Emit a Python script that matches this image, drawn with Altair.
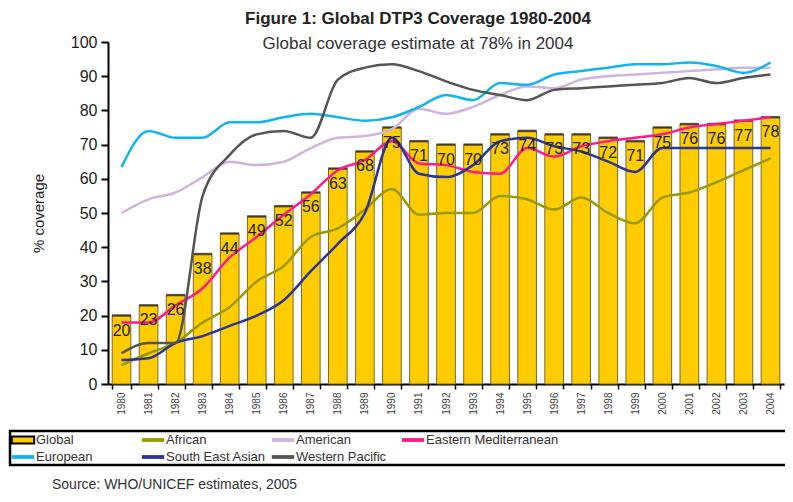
import altair as alt
import pandas as pd

years = ["1980", "1981", "1982", "1983", "1984", "1985", "1986", "1987", "1988",
         "1989", "1990", "1991", "1992", "1993", "1994", "1995", "1996", "1997",
         "1998", "1999", "2000", "2001", "2002", "2003", "2004"]

global_cov = [20, 23, 26, 38, 44, 49, 52, 56, 63, 68, 75, 71, 70, 70, 73, 74, 73, 73,
              72, 71, 75, 76, 76, 77, 78]
african = [5.5, 9, 12, 18, 22.5, 30, 34.5, 43, 45.5, 51, 57, 49.5, 50, 50, 55, 54, 51,
           54.5, 50, 47, 54.5, 56, 59, 62.5, 66]
american = [50, 54, 56, 60.5, 65, 64, 65, 69, 72, 72.5, 74.5, 80.5, 79, 81, 84.5, 87,
            86.5, 89, 90, 90.5, 91, 91.5, 92, 92.5, 92.5]
eastern_med = [18, 18, 23, 28, 37, 43, 49.5, 55.5, 62.5, 65.5, 71, 64.5, 64, 62, 61.5,
               69, 66.5, 69.5, 71, 72, 73, 75, 76, 77, 78]
european = [63.5, 74, 72, 72, 76.5, 76.5, 78, 79, 78, 77, 78, 81, 84.5, 83, 88, 87.5,
            90.5, 91.5, 92.5, 93.5, 93.5, 94, 93, 91, 94]
south_east_asian = [7, 7.5, 12, 14, 17, 20, 24.5, 33, 41, 50, 72, 61.5, 60.5, 64, 71,
                    72, 69.5, 68, 65, 62, 69, 69, 69, 69, 69]
western_pacific = [9, 12, 12, 55, 67, 73, 74, 72, 89, 92.5, 93.5, 91.5, 88.5, 86, 84.5,
                   83, 86, 86.5, 87, 87.5, 88, 89.5, 88, 89.5, 90.5]

series_names = ["Global", "African", "American", "Eastern Mediterranean",
                "European", "South East Asian", "Western Pacific"]
series_colors = ["#FFCC00", "#999900", "#CDB6DE", "#FF1A8C",
                 "#12B4EC", "#2B3594", "#555555"]

FONT = "Liberation Sans Narrow, Arial Narrow, Liberation Sans, Arial, sans-serif"

df_bar = pd.DataFrame({"year": years, "value": global_cov})
line_series = {
    "African": african,
    "American": american,
    "Eastern Mediterranean": eastern_med,
    "European": european,
    "South East Asian": south_east_asian,
    "Western Pacific": western_pacific,
}
rows = []
for name, vals in line_series.items():
    for yr, v in zip(years, vals):
        rows.append({"year": yr, "series": name, "value": v})
df_lines = pd.DataFrame(rows)

df_leg = pd.DataFrame({
    "name": series_names,
    "col": [i % 4 for i in range(len(series_names))],
    "row": [i // 4 for i in range(len(series_names))],
})

color_scale = alt.Scale(domain=series_names, range=series_colors)

x_enc = alt.X(
    "year:O", sort=years,
    scale=alt.Scale(paddingInner=0.31, paddingOuter=0.155),
    axis=alt.Axis(title=None, labelAngle=-90, labelFontSize=10, labelColor="#444",
                  labelFont=FONT, domainColor="black", domainWidth=2,
                  tickColor="black", tickWidth=1.5, tickSize=5, tickBand="extent",
                  labelPadding=3),
)
y_enc = alt.Y(
    "value:Q", scale=alt.Scale(domain=[0, 100]),
    axis=alt.Axis(title="% coverage", values=list(range(0, 101, 10)), grid=False,
                  domainColor="black", domainWidth=2, tickColor="black", tickWidth=2,
                  tickSize=7, labelFontSize=16, labelFont=FONT, labelColor="#222",
                  labelPadding=4, titleFont=FONT, titleFontSize=15,
                  titleFontWeight="normal", titleColor="#222", titlePadding=24),
)

bars = alt.Chart(df_bar).mark_bar(
    color="#FFCC00", stroke="#7a6a2a", strokeWidth=1
).encode(x=x_enc, y=y_enc)

caps = alt.Chart(df_bar).mark_tick(
    color="#222", thickness=2.5, size=19
).encode(x=x_enc, y=y_enc)

labels = alt.Chart(df_bar).mark_text(
    dy=15, baseline="middle", fontSize=16, font=FONT, color="#222"
).encode(x=x_enc, y=y_enc, text="value:Q")

lines = alt.Chart(df_lines).mark_line(
    strokeWidth=2.5, interpolate="monotone"
).encode(
    x=x_enc, y=y_enc,
    color=alt.Color("series:N", scale=color_scale, legend=None),
)

main = alt.layer(bars, caps, lines, labels)

leg_x = alt.X("col:Q", scale=alt.Scale(domain=[0, 4], range=[-96, 424]), axis=None)
leg_y = alt.Y("row:Q", scale=alt.Scale(domain=[0, 1], range=[398, 415]), axis=None)

leg_box = alt.Chart(pd.DataFrame({"box": [0]})).mark_rect(
    fill="white", stroke="black", strokeWidth=2.5
).encode(x=alt.value(-98), x2=alt.value(720), y=alt.value(389), y2=alt.value(423))

leg_lines = alt.Chart(df_leg).transform_filter("datum.name != 'Global'").mark_point(
    shape="M-1,-0.17H1V0.17H-1Z", filled=True, size=500, opacity=1, xOffset=11
).encode(x=leg_x, y=leg_y,
         color=alt.Color("name:N", scale=color_scale, legend=None))

leg_global = alt.Chart(df_leg).transform_filter("datum.name == 'Global'").mark_point(
    shape="M-1,-0.32H1V0.32H-1Z", filled=True, size=500, opacity=1, xOffset=11,
    color="#FFCC00", stroke="black", strokeWidth=2
).encode(x=leg_x, y=leg_y)

leg_text = alt.Chart(df_leg).mark_text(
    align="left", baseline="middle", dx=24, fontSize=13, font=FONT, color="#333"
).encode(x=leg_x, y=leg_y, text="name:N")

source = alt.Chart(pd.DataFrame({"s": ["Source: WHO/UNICEF estimates, 2005"]})).mark_text(
    align="left", baseline="middle", fontSize=14, font=FONT, color="#333"
).encode(x=alt.value(-56), y=alt.value(443), text="s:N")

legend_layer = alt.layer(leg_box, leg_lines, leg_global, leg_text, source)

chart = alt.layer(main, legend_layer).resolve_scale(
    x="independent", y="independent"
).properties(
    width=676, height=342,
    autosize=alt.AutoSizeParams(type="none"),
    padding={"left": 100, "top": 34, "right": 1, "bottom": 110},
    title=alt.TitleParams(
        text="Figure 1: Global DTP3 Coverage 1980-2004",
        subtitle="Global coverage estimate at 78% in 2004",
        anchor="middle", frame="group", dx=-28, offset=-19,
        font=FONT, fontSize=17, fontWeight="bold", color="#222",
        subtitleFont=FONT, subtitleFontSize=17, subtitleColor="#333",
        subtitlePadding=8,
    ),
).configure_view(stroke=None)

chart.save("out.html", embed_options={"renderer": "svg", "actions": False})
